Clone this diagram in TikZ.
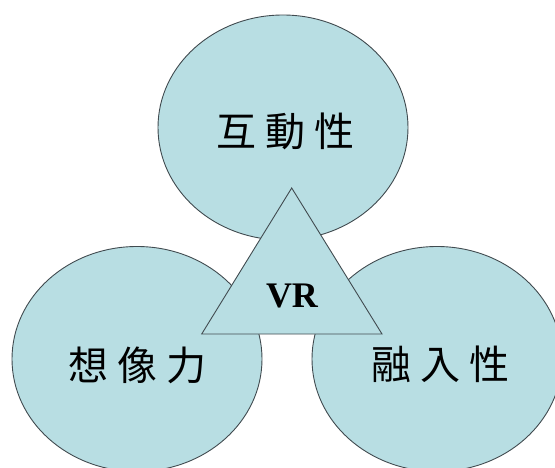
\documentclass[tikz,border=0pt]{standalone}
\usepackage{fontspec}
\setmainfont{Liberation Serif}
\newfontfamily\cjk{Noto Sans CJK TC}
\usetikzlibrary{shapes.geometric}
\definecolor{bub}{RGB}{184,222,227}
\definecolor{edgec}{RGB}{65,75,80}
\begin{document}
\begin{tikzpicture}[x=1pt,y=-1pt,
  blob/.style={ellipse, draw=edgec, fill=bub, line width=0.9pt, minimum width=250pt, minimum height=225pt, inner sep=0pt, outer sep=0pt},
  tri/.style={draw=edgec, fill=bub, line width=0.9pt, line join=miter},
  cjklabel/.style={font=\cjk\fontsize{40}{44}\selectfont, inner sep=0pt, text=black},
  vrlabel/.style={font=\bfseries\fontsize{36}{40}\selectfont, inner sep=0pt, text=black}]
\useasboundingbox (0,0) rectangle (555,468);
\clip (0,0) rectangle (555,468);
\fill[white] (0,0) rectangle (555,468);
\node[blob] (top) at (283,127.5) {};
\node[blob] (left) at (137,359) {};
\node[blob] (right) at (437,359) {};
\coordinate (apex) at (291.7,188);
\coordinate (bl) at (201.7,334);
\coordinate (br) at (382,334);
\draw[tri] (apex) -- (bl) -- (br) -- cycle;
\node[cjklabel] (t1) at (285,131) {互\hspace{9pt}動\hspace{9pt}性};
\node[cjklabel] (t2) at (137,365) {想\hspace{9pt}像\hspace{9pt}力};
\node[cjklabel] (t3) at (440,364) {融\hspace{9pt}入\hspace{9pt}性};
\node[vrlabel] (vr) at (292,296) {VR};
\end{tikzpicture}
\end{document}
